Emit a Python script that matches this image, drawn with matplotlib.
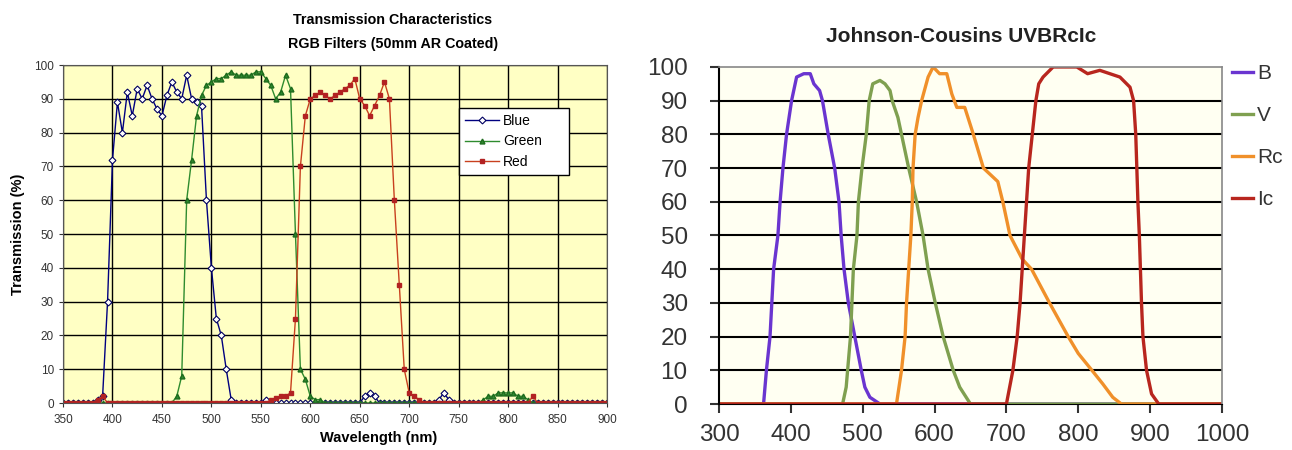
import matplotlib
matplotlib.use("Agg")
import matplotlib.pyplot as plt

plt.rcParams['font.family'] = ['Liberation Sans', 'DejaVu Sans']

# ---- left chart: RGB filters, sampled every 5 nm from 350 to 900 ----
wl = list(range(350, 905, 5))

blue = ([0] * 7 + [1, 2, 30, 72, 89, 80, 92, 85, 93, 90, 94, 90, 87, 85, 91, 95, 92, 90, 97, 90, 89, 88,
        60, 40, 25, 20, 10, 1] + [0] * 6 + [1] + [0] * 19 + [2, 3, 2] + [0] * 12 + [1, 3, 1] + [0] * 32)
green = ([0] * 23 + [2, 8, 60, 72, 85, 91, 94, 95, 96, 96, 97, 98, 97, 97, 97, 97, 98, 98, 96, 94, 90, 92,
         97, 93, 50, 10, 7, 2, 1, 1] + [0] * 32 + [1, 2, 2, 3, 3, 3, 3, 2, 2, 1] + [0] * 16)
red = ([0] * 7 + [1, 2] + [0] * 33 + [1, 1.5, 2, 2, 3, 25, 70, 85, 90, 91, 92, 91, 90, 91, 92, 93, 94, 96,
       90, 88, 85, 88, 91, 95, 90, 60, 35, 10, 3, 2, 1] + [0] * 22 + [2] + [0] * 15)

# ---- right chart: Johnson-Cousins UBVRcIc ----
b_wl = [300, 362, 366, 371, 376, 382, 385, 389, 394, 401, 408, 418, 427, 432, 440, 444, 452, 461, 467, 470,
        474, 480, 489, 498, 503, 510, 524, 1000]
b_t = [0, 0, 10, 20, 40, 50, 60, 70, 80, 90, 97, 98, 98, 95, 93, 90, 80, 70, 60, 50, 40, 30, 20, 10, 5, 2, 0, 0]
v_wl = [300, 472, 477, 483, 487, 492, 494, 499, 505, 509, 514, 524, 531, 538, 541, 549, 554, 564, 575, 584,
        591, 601, 612, 626, 635, 650, 1000]
v_t = [0, 0, 5, 20, 40, 50, 60, 70, 80, 90, 95, 96, 95, 93, 90, 85, 80, 70, 60, 50, 40, 30, 20, 10, 5, 0, 0]
rc_wl = [300, 547, 554, 559, 561, 564, 567, 569, 570, 573, 577, 582, 591, 598, 607, 617, 624, 631, 642, 654,
         668, 673, 688, 695, 705, 722, 735, 760, 786, 800, 819, 834, 848, 860, 1000]
rc_t = [0, 0, 10, 20, 30, 40, 50, 60, 70, 80, 85, 90, 97, 100, 98, 98, 92, 88, 88, 80, 70, 69, 66, 60, 50, 43,
        40, 30, 20, 15, 10, 6, 2, 0, 0]
ic_wl = [300, 700, 709, 715, 719, 722, 725, 728, 731, 736, 741, 745, 751, 765, 798, 813, 830, 858, 872, 877,
         880, 883, 885, 888, 890, 895, 902, 912, 1000]
ic_t = [0, 0, 10, 20, 30, 40, 50, 60, 70, 80, 90, 95, 97, 100, 100, 98, 99, 97, 94, 90, 80, 60, 50, 30, 20,
        10, 3, 0, 0]

fig = plt.figure(figsize=(12.92, 4.5), dpi=100)

# left
ax1 = fig.add_axes([0.0488, 0.1044, 0.421, 0.751])
ax1.set_facecolor('#FFFFC4')
ax1.plot(wl, blue, color='#000080', lw=1, marker='D', ms=3.5, mfc='white', mec='#000060', mew=0.8,
         label='Blue')
ax1.plot(wl, green, color='#2E8B2E', lw=1, marker='^', ms=3.5, mfc='#2E8B2E', mec='#1E6B1E', label='Green')
ax1.plot(wl, red, color='#C8401E', lw=1, marker='s', ms=2.2, mfc='#B22222', mec='#B22222', label='Red')
ax1.set_xlim(350, 900)
ax1.set_ylim(0, 100)
ax1.set_xticks(range(350, 901, 50))
ax1.set_yticks(range(0, 101, 10))
ax1.grid(True, color='black', lw=1)
ax1.set_axisbelow(True)
ax1.tick_params(labelsize=8.5, length=3, colors='#333333')
ax1.tick_params(axis='x', pad=5)
for s in ax1.spines.values():
    s.set_color('#555555')
leg = ax1.legend(loc='upper left', bbox_to_anchor=(0.728, 0.773, 0.202, 0.1), mode='expand',
                 borderaxespad=0, fontsize=10, fancybox=False, edgecolor='black', framealpha=1,
                 handlelength=2.4, borderpad=0.45, labelspacing=0.45, handletextpad=0.3)
leg.get_frame().set_linewidth(1)
fig.text(393 / 1292, 1 - 20 / 450, 'Transmission Characteristics', ha='center', va='center',
         fontsize=10.3, fontweight='bold')
fig.text(393 / 1292, 1 - 44 / 450, 'RGB Filters (50mm AR Coated)', ha='center', va='center',
         fontsize=10.3, fontweight='bold')
fig.text(379 / 1292, 1 - 438 / 450, 'Wavelength (nm)', ha='center', va='center', fontsize=10.5,
         fontweight='bold')
fig.text(18 / 1292, 1 - 234 / 450, 'Transmission (%)', ha='center', va='center', rotation=90,
         fontsize=10.5, fontweight='bold')

# right
ax2 = fig.add_axes([0.5565, 0.1022, 0.3893, 0.749])
ax2.set_facecolor('#FFFFF2')
ax2.plot(b_wl, b_t, color='#6A35D0', lw=2.4, label='B')
ax2.plot(v_wl, v_t, color='#7FA050', lw=2.4, label='V')
ax2.plot(rc_wl, rc_t, color='#F0902A', lw=2.4, label='Rc')
ax2.plot(ic_wl, ic_t, color='#B8261E', lw=2.4, label='Ic')
ax2.set_xlim(300, 1000)
ax2.set_ylim(0, 100)
ax2.set_xticks(range(300, 1001, 100))
ax2.set_yticks(range(0, 101, 10))
ax2.yaxis.grid(True, color='black', lw=1.5)
gl = ax2.get_ygridlines()
gl[0].set_visible(False)
gl[-1].set_visible(False)
ax2.set_axisbelow(True)
ax2.tick_params(labelsize=17.5, length=6.5, width=1.5, colors='#333333')
ax2.tick_params(axis='y', pad=16)
ax2.tick_params(axis='x', pad=8)
ax2.spines['left'].set_color('black')
ax2.spines['left'].set_linewidth(1.5)
ax2.spines['bottom'].set_color('black')
ax2.spines['top'].set_color('#888888')
ax2.spines['top'].set_linewidth(1.2)
ax2.spines['right'].set_color('#888888')
ax2.spines['right'].set_linewidth(1.2)
ax2.legend(loc='upper left', bbox_to_anchor=(1.02, 1.008), borderaxespad=0, borderpad=0, frameon=False,
           fontsize=15, handlelength=1.0, handletextpad=0.2, labelspacing=1.1, labelcolor='#333333')
fig.text(961 / 1292, 1 - 36 / 450, 'Johnson-Cousins UVBRcIc', ha='center', va='center', fontsize=15,
         fontweight='bold', color='#222222')

fig.savefig('out.png', dpi=100)
